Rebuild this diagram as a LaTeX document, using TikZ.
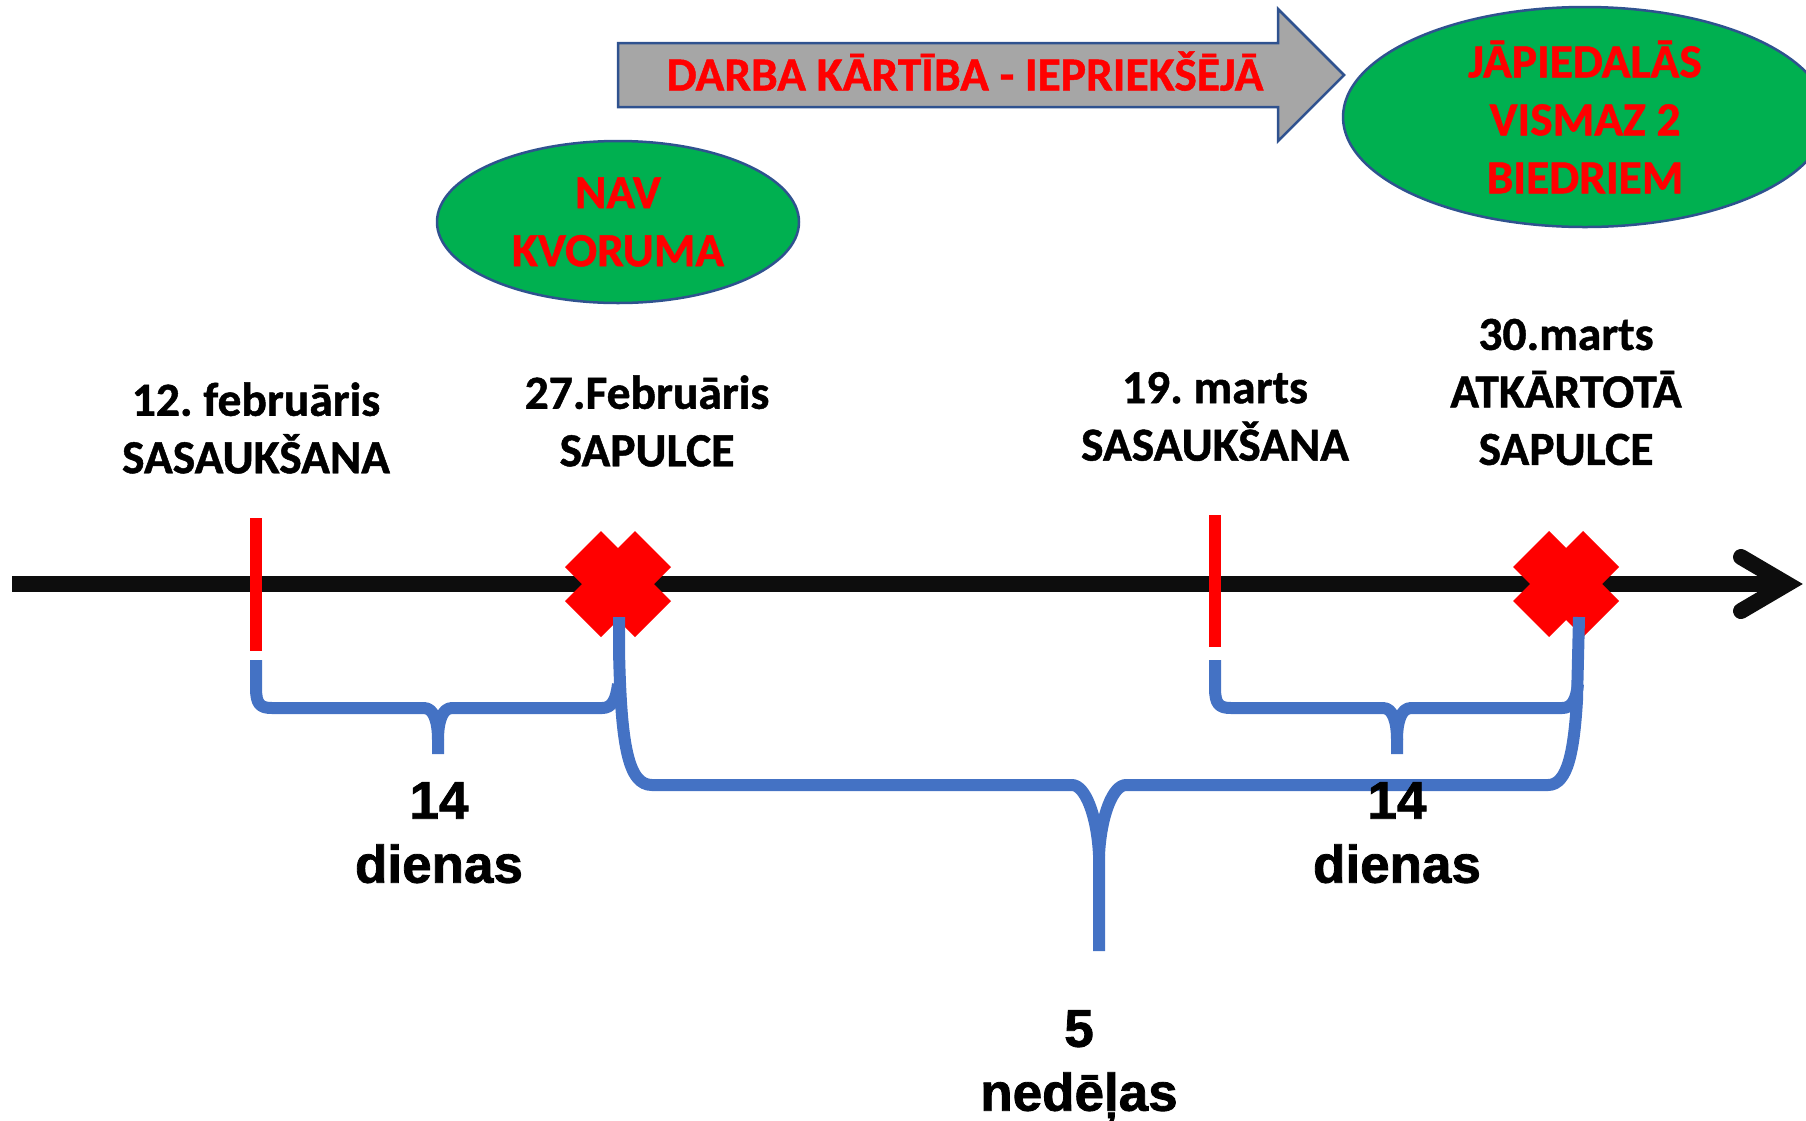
\documentclass[tikz,border=0pt]{standalone}
\usepackage{fontspec}
\usetikzlibrary{shapes.geometric}
\newfontfamily\calfont[FakeBold=1]{Carlito}
\newfontfamily\arfont[FakeBold=1.5]{Liberation Sans}
\definecolor{bluebr}{HTML}{4472C4}
\definecolor{ppgreen}{HTML}{00B050}
\definecolor{ppborder}{HTML}{2F528F}
\definecolor{ppgrey}{HTML}{A6A6A6}
\definecolor{axisblack}{HTML}{0D0D0D}
\definecolor{pred}{HTML}{FF0000}
\frenchspacing
\begin{document}
\begin{tikzpicture}[x=1pt,y=-1pt,
  datelabel/.style={font={\calfont\bfseries\fontsize{47.5}{57.5}\selectfont}, align=center, inner sep=0pt, text=black},
  redlabel/.style={font={\calfont\bfseries\fontsize{47.5}{58}\selectfont}, align=center, inner sep=0pt, text=pred},
  numlabel/.style={font={\arfont\bfseries\fontsize{53}{64}\selectfont}, align=center, inner sep=0pt, text=black},
  bracestyle/.style={draw=bluebr, line width=12pt, line join=round},
  tickstyle/.style={draw=pred, line width=12pt},
  bubble/.style={ellipse, fill=ppgreen, draw=ppborder, line width=2.5pt, inner sep=0pt},
  axisline/.style={draw=axisblack, line width=16pt},
  crossmark/.style={fill=pred}
]
\useasboundingbox (0,0) rectangle (1806,1120);

% key coordinates
\coordinate (c1) at (618,584);
\coordinate (c2) at (1566,584);
\coordinate (k1top) at (256,518);
\coordinate (k1bot) at (256,651);
\coordinate (k2top) at (1215,515);
\coordinate (k2bot) at (1215,647);
\coordinate (axstart) at (12,584);
\coordinate (axtip) at (1787,584);
\coordinate (arma) at (1741,557);
\coordinate (armb) at (1741,611);

% time axis
\draw[axisline] (axstart) -- (axtip);
\draw[axisline, line cap=round, line join=miter] (arma) -- (axtip) -- (armb);

% red ticks
\draw[tickstyle] (k1top) -- (k1bot);
\draw[tickstyle] (k2top) -- (k2bot);

% red crosses
\foreach \c in {c1,c2}{
  \fill[crossmark, shift={(\c)}] (0,-36) -- (17,-53) -- (53,-17) -- (36,0) -- (53,17) -- (17,53)
     -- (0,36) -- (-17,53) -- (-53,17) -- (-36,0) -- (-53,-17) -- (-17,-53) -- cycle;
}

% brace 1 (14 dienas)
\draw[bracestyle] (256,660) -- (256,688) .. controls (256,704) and (260,708) .. (272,708)
  -- (424,708) .. controls (434,708) and (438,722) .. (438,740) -- (438,754);
\draw[bracestyle] (438,740) .. controls (438,722) and (442,708) .. (452,708)
  -- (602,708) .. controls (612,708) and (616,700) .. (618,684);

% big brace (5 nedelas)
\draw[bracestyle] (619,617) -- (619,650) .. controls (621,745) and (628,785) .. (652,785)
  -- (1072,785) .. controls (1085,785) and (1097,815) .. (1099,855) -- (1099,951);
\draw[bracestyle] (1099,855) .. controls (1101,815) and (1113,785) .. (1126,785)
  -- (1548,785) .. controls (1568,785) and (1574,750) .. (1577,700) -- (1579,617);

% brace 3 (14 dienas)
\draw[bracestyle] (1215,660) -- (1215,688) .. controls (1215,704) and (1219,708) .. (1231,708)
  -- (1383,708) .. controls (1393,708) and (1397,722) .. (1397,740) -- (1397,754);
\draw[bracestyle] (1397,740) .. controls (1397,722) and (1401,708) .. (1411,708)
  -- (1562,708) .. controls (1572,708) and (1576,700) .. (1578,684);

% grey arrow
\path[fill=ppgrey, draw=ppborder, line width=2.5pt, line join=miter]
  (618,43) -- (1278,43) -- (1278,9) -- (1344,75) -- (1278,141) -- (1278,107) -- (618,107) -- cycle;
\node[redlabel, anchor=base] (darba) at (965,90.5) {DARBA KĀRTĪBA - IEPRIEKŠĒJĀ};

% ellipses
\node[bubble, redlabel, minimum width=362pt, minimum height=162pt] (nav) at (618,222) {NAV\\KVORUMA};
\node[bubble, redlabel, minimum width=484pt, minimum height=220pt] (jap) at (1585,117) {JĀPIEDALĀS\\VISMAZ 2\\BIEDRIEM};

% date labels
\node[datelabel] (lab1) at (256,428) {12. februāris\\SASAUKŠANA};
\node[datelabel] (lab2) at (647,421) {27.Februāris\\SAPULCE};
\node[datelabel] (lab3) at (1215,416.5) {19. marts\\SASAUKŠANA};
\node[datelabel] (lab4) at (1566,392) {30.marts\\ATKĀRTOTĀ\\SAPULCE};

% durations
\node[numlabel, anchor=north] (d1) at (439,782) {14\\dienas};
\node[numlabel, anchor=north] (d2) at (1397,782) {14\\dienas};
\node[numlabel, anchor=north] (w5) at (1079,1010) {5\\nedēļas};
\end{tikzpicture}
\end{document}
